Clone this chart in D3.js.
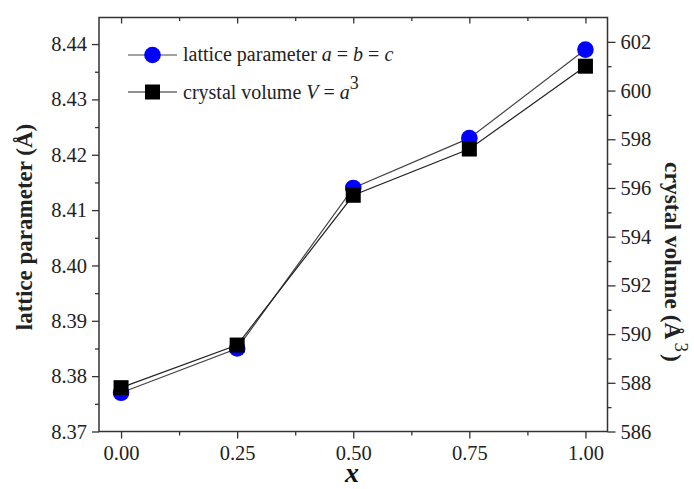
<html>
<head>
<style>
    body {
        margin: 0;
        background: #ffffff;
    }
</style>
<script src="https://d3js.org/d3.v7.min.js"></script>
</head>
<body>
<svg id="chart"></svg>
<script>

// values
let xValues = [0.00, 0.25, 0.50, 0.75, 1.00]
let latticeValues = [8.377, 8.385, 8.414, 8.423, 8.439]
let volumeValues = [587.8, 589.55, 595.7, 597.6, 601.0]

let xTicks = [0.00, 0.25, 0.50, 0.75, 1.00]
let xMinorTicks = [0.125, 0.375, 0.625, 0.875]
let leftTicks = [8.37, 8.38, 8.39, 8.40, 8.41, 8.42, 8.43, 8.44]
let leftMinorTicks = [8.375, 8.385, 8.395, 8.405, 8.415, 8.425, 8.435]
let rightTicks = [586, 588, 590, 592, 594, 596, 598, 600, 602]
let rightMinorTicks = [587, 589, 591, 593, 595, 597, 599, 601]

let width = 694
let height = 489
let plot = {left: 99, right: 607.5, top: 17.5, bottom: 431.5}
let serif = '"Liberation Serif", "Times New Roman", Times, serif'

let svg = d3.select('#chart')
    .attr('width', width)
    .attr('height', height)
    .style('font-family', serif)

let x = d3.scaleLinear()
    .domain([-0.0475, 1.0475])
    .range([plot.left, plot.right])
let yLeft = d3.scaleLinear()
    .domain([8.37, 8.4448])
    .range([plot.bottom, plot.top])
let yRight = d3.scaleLinear()
    .domain([586, 603])
    .range([plot.bottom, plot.top])

function styleAxis(g, fontSize) {
    g.attr('font-family', null).style('font-family', serif)
    g.select('.domain').remove()
    g.selectAll('line').attr('stroke', '#333').attr('stroke-width', 1.3)
    g.selectAll('text')
        .attr('fill', '#222')
        .style('font-family', serif)
        .style('font-size', fontSize + 'px')
}

// bottom axis
svg.append('g')
    .attr('transform', `translate(0,${plot.bottom})`)
    .call(d3.axisBottom(x).tickValues(xTicks).tickSize(7).tickPadding(7)
        .tickFormat(d3.format('.2f')))
    .call(g => styleAxis(g, 20.5))
svg.append('g')
    .attr('transform', `translate(0,${plot.bottom})`)
    .call(d3.axisBottom(x).tickValues(xMinorTicks).tickSize(4).tickFormat(''))
    .call(g => styleAxis(g, 20))

// top axis, ticks inward
svg.append('g')
    .attr('transform', `translate(0,${plot.top})`)
    .call(d3.axisBottom(x).tickValues(xTicks).tickSize(6).tickFormat(''))
    .call(g => styleAxis(g, 20))
svg.append('g')
    .attr('transform', `translate(0,${plot.top})`)
    .call(d3.axisBottom(x).tickValues(xMinorTicks).tickSize(3.5).tickFormat(''))
    .call(g => styleAxis(g, 20))

// left axis
svg.append('g')
    .attr('transform', `translate(${plot.left},0)`)
    .call(d3.axisLeft(yLeft).tickValues(leftTicks).tickSize(7).tickPadding(5)
        .tickFormat(d3.format('.2f')))
    .call(g => styleAxis(g, 20.5))
svg.append('g')
    .attr('transform', `translate(${plot.left},0)`)
    .call(d3.axisLeft(yLeft).tickValues(leftMinorTicks).tickSize(4).tickFormat(''))
    .call(g => styleAxis(g, 20))

// right axis
svg.append('g')
    .attr('transform', `translate(${plot.right},0)`)
    .call(d3.axisRight(yRight).tickValues(rightTicks).tickSize(8).tickPadding(5))
    .call(g => styleAxis(g, 20.5))
svg.append('g')
    .attr('transform', `translate(${plot.right},0)`)
    .call(d3.axisRight(yRight).tickValues(rightMinorTicks).tickSize(4).tickFormat(''))
    .call(g => styleAxis(g, 20))

// frame
svg.append('rect')
    .attr('x', plot.left)
    .attr('y', plot.top)
    .attr('width', plot.right - plot.left)
    .attr('height', plot.bottom - plot.top)
    .attr('fill', 'none')
    .attr('stroke', '#333')
    .attr('stroke-width', 1.5)

// lines
let latticeLine = d3.line()
    .x((d, i) => x(xValues[i]))
    .y(d => yLeft(d))
let volumeLine = d3.line()
    .x((d, i) => x(xValues[i]))
    .y(d => yRight(d))

svg.append('path')
    .attr('d', latticeLine(latticeValues))
    .attr('fill', 'none')
    .attr('stroke', '#444')
    .attr('stroke-width', 1.2)
svg.append('path')
    .attr('d', volumeLine(volumeValues))
    .attr('fill', 'none')
    .attr('stroke', '#222')
    .attr('stroke-width', 1.2)

// markers
svg.selectAll('circle.lattice').data(latticeValues)
    .enter().append('circle')
    .attr('class', 'lattice')
    .attr('cx', (d, i) => x(xValues[i]))
    .attr('cy', d => yLeft(d))
    .attr('r', 8.3)
    .attr('fill', '#0000ff')

let sq = 15
svg.selectAll('rect.volume').data(volumeValues)
    .enter().append('rect')
    .attr('class', 'volume')
    .attr('x', (d, i) => x(xValues[i]) - sq / 2)
    .attr('y', d => yRight(d) - sq / 2)
    .attr('width', sq)
    .attr('height', sq)
    .attr('fill', '#000')

// legend
let legend = svg.append('g')
legend.append('line')
    .attr('x1', 128).attr('x2', 177).attr('y1', 55).attr('y2', 55)
    .attr('stroke', '#444').attr('stroke-width', 1.2)
legend.append('circle')
    .attr('cx', 152.5).attr('cy', 55).attr('r', 8.3).attr('fill', '#0000ff')
legend.append('line')
    .attr('x1', 128).attr('x2', 177).attr('y1', 92).attr('y2', 92)
    .attr('stroke', '#222').attr('stroke-width', 1.2)
legend.append('rect')
    .attr('x', 145).attr('y', 84.5).attr('width', sq).attr('height', sq).attr('fill', '#000')

let t1 = legend.append('text')
    .attr('x', 183).attr('y', 61)
    .style('font-size', '20px').attr('fill', '#222')
t1.append('tspan').text('lattice parameter ')
t1.append('tspan').style('font-style', 'italic').text('a')
t1.append('tspan').text(' = ')
t1.append('tspan').style('font-style', 'italic').text('b')
t1.append('tspan').text(' = ')
t1.append('tspan').style('font-style', 'italic').text('c')

let t2 = legend.append('text')
    .attr('x', 183).attr('y', 99)
    .style('font-size', '20px').attr('fill', '#222')
t2.append('tspan').text('crystal volume ')
t2.append('tspan').style('font-style', 'italic').text('V')
t2.append('tspan').text(' = ')
t2.append('tspan').style('font-style', 'italic').text('a')
t2.append('tspan').attr('dy', -10).style('font-size', '18px').text('3')

// axis titles
svg.append('text')
    .attr('transform', `translate(32,227) rotate(-90)`)
    .attr('text-anchor', 'middle')
    .style('font-size', '23px').style('font-weight', 'bold').attr('fill', '#222')
    .text('lattice parameter (Å)')

let rt = svg.append('text')
    .attr('transform', `translate(665,262) rotate(90)`)
    .attr('text-anchor', 'middle')
    .style('font-size', '23.5px').style('font-weight', 'bold').attr('fill', '#222')
rt.append('tspan').text('crystal volume (Å')
rt.append('tspan').attr('dx', 3).attr('dy', -10).style('font-size', '19px').style('font-weight', 'normal').text('3')
rt.append('tspan').attr('dx', 2).attr('dy', 10).text(')')

svg.append('text')
    .attr('x', 352).attr('y', 482)
    .attr('text-anchor', 'middle')
    .style('font-size', '28px').style('font-weight', 'bold').style('font-style', 'italic')
    .attr('fill', '#111')
    .text('x')

</script>
</body>
</html>
